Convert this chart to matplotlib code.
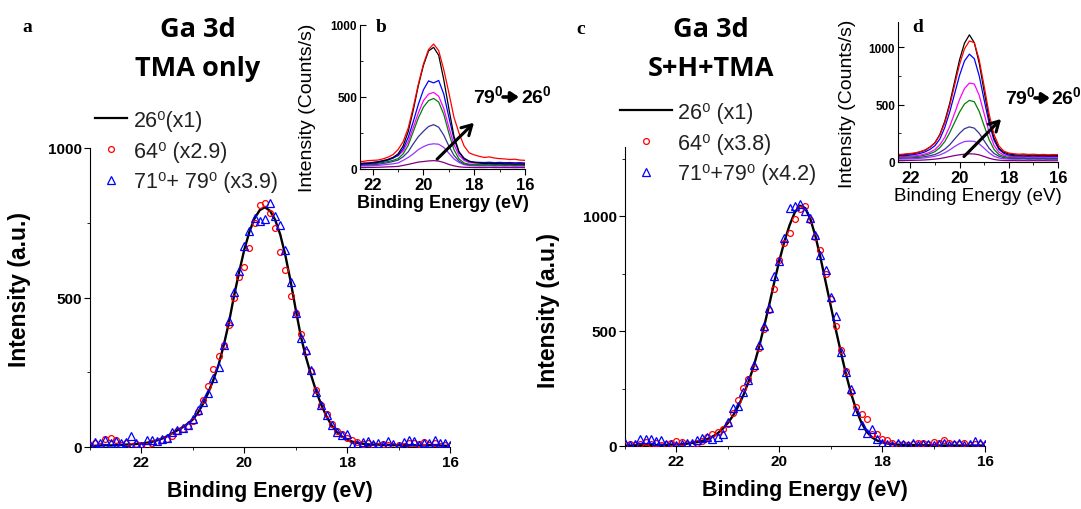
import numpy as np
import matplotlib.pyplot as plt
from matplotlib.lines import Line2D
from matplotlib.ticker import MultipleLocator

plt.rcParams['font.family'] = ['Liberation Sans', 'DejaVu Sans']
plt.rcParams['mathtext.fontset'] = 'custom'
plt.rcParams['mathtext.rm'] = 'Liberation Sans'
plt.rcParams['mathtext.bf'] = 'Liberation Sans:bold'
plt.rcParams['mathtext.default'] = 'regular'

# binding energy grid of the main spectra (eV), 23.0 -> 16.0
energy = np.round(np.arange(230, 159, -1) / 10.0, 1)

# ---- panel a : TMA only ----
a_26 = [5, 4, 5, 6, 5, 6, 7, 8, 9, 10,
        12, 14, 17, 22, 28, 36, 46, 56, 66, 78,
        92, 115, 145, 182, 225, 275, 340, 415, 505, 585,
        660, 720, 765, 792, 802, 790, 760, 710, 640, 555,
        460, 370, 300, 240, 185, 140, 102, 72, 50, 35,
        25, 18, 14, 11, 9, 8, 8, 7, 7, 6,
        6, 6, 5, 6, 5, 5, 6, 5, 5, 4, 4]
a_64 = [5, 12, 5, 28, 30, 22, 8, 15, 5, 10,
        8, 5, 12, 18, 22, 28, 38, 52, 60, 70,
        88, 117, 157, 205, 261, 305, 341, 408, 500, 568,
        602, 665, 750, 811, 817, 783, 733, 652, 593, 506,
        447, 377, 317, 255, 190, 142, 110, 78, 52, 42,
        30, 25, 18, 10, 12, 8, 5, 10, 6, 4,
        8, 5, 12, 15, 10, 18, 8, 12, 5, 6, 3]
a_7179 = [8, 18, 12, 22, 15, 20, 14, 18, 38, 12,
          5, 25, 22, 20, 28, 30, 50, 56, 62, 73,
          95, 123, 149, 181, 232, 268, 341, 422, 520, 589,
          671, 724, 766, 755, 761, 817, 772, 742, 660, 551,
          447, 363, 324, 257, 185, 140, 106, 73, 50, 39,
          42, 8, 10, 18, 20, 10, 15, 8, 20, 10,
          5, 18, 22, 20, 8, 12, 15, 25, 15, 12, 8]

# ---- panel c : S+H+TMA ----
c_26 = [2, 2, 3, 3, 3, 4, 4, 5, 5, 6,
        7, 8, 10, 13, 17, 22, 30, 40, 55, 75,
        100, 132, 172, 220, 278, 345, 425, 515, 610, 710,
        805, 890, 960, 1015, 1045, 1035, 990, 915, 820, 715,
        610, 505, 405, 310, 225, 155, 100, 62, 38, 24,
        16, 11, 8, 6, 5, 4, 4, 3, 3, 3,
        3, 2, 2, 2, 2, 2, 2, 2, 2, 2, 2]
c_64 = [3, 8, 5, 10, 18, 8, 12, 5, 10, 15,
        22, 18, 10, 8, 15, 20, 40, 51, 61, 72,
        97, 145, 202, 253, 292, 340, 426, 510, 592, 682,
        809, 881, 925, 986, 1030, 1043, 983, 910, 853, 749,
        640, 520, 419, 325, 234, 171, 137, 116, 51, 51,
        29, 25, 12, 8, 10, 5, 8, 12, 15, 10,
        18, 12, 25, 15, 10, 8, 12, 5, 8, 10, 5]
c_7179 = [15, 5, 8, 30, 32, 30, 20, 28, 10, 8,
          5, 8, 12, 15, 25, 35, 40, 32, 40, 51,
          104, 166, 173, 234, 289, 354, 438, 520, 600, 737,
          806, 903, 1033, 1043, 1052, 1023, 990, 918, 831, 766,
          650, 564, 408, 321, 249, 152, 90, 58, 72, 29,
          14, 10, 5, 12, 8, 5, 12, 6, 8, 10,
          5, 8, 12, 6, 10, 12, 5, 8, 20, 15, 10]

# ---- insets : angle series 26 -> 79 deg, grid 22.6 -> 16.0 eV ----
inset_energy = np.round(np.arange(226, 159, -2) / 10.0, 1)
inset_colors = ['red', 'black', 'blue', '#ff00ff', 'green', '#333399', '#9933ff', '#800080']

b_curves = [
    [55, 52, 58, 60, 62, 70, 82, 100, 135, 190, 285, 430, 590, 730, 830, 868, 822, 690, 530, 360,
     250, 160, 112, 98, 88, 80, 84, 76, 72, 70, 66, 68, 62, 60],
    [35, 38, 40, 45, 50, 58, 65, 80, 105, 160, 260, 410, 580, 720, 820, 845, 790, 620, 420, 230,
     120, 75, 55, 45, 42, 38, 40, 36, 38, 35, 36, 34, 35, 33],
    [30, 33, 36, 40, 45, 52, 62, 75, 95, 140, 220, 330, 450, 550, 612, 598, 615, 520, 360, 210,
     115, 70, 52, 48, 46, 45, 47, 44, 46, 44, 45, 43, 44, 42],
    [40, 42, 44, 46, 50, 56, 68, 80, 92, 125, 190, 290, 390, 475, 520, 532, 505, 420, 290, 170,
     95, 60, 45, 42, 40, 39, 41, 38, 40, 38, 39, 37, 38, 37],
    [32, 33, 34, 36, 40, 45, 52, 60, 72, 105, 165, 260, 355, 430, 475, 490, 465, 380, 250, 135,
     70, 42, 33, 31, 30, 30, 31, 29, 30, 29, 30, 28, 29, 28],
    [26, 27, 28, 30, 33, 38, 44, 52, 62, 85, 120, 175, 225, 262, 295, 308, 290, 235, 160, 95,
     55, 35, 30, 28, 27, 27, 28, 26, 27, 26, 27, 25, 26, 25],
    [20, 21, 22, 23, 25, 28, 32, 36, 42, 60, 80, 105, 135, 155, 170, 175, 172, 150, 110, 70,
     45, 30, 24, 22, 21, 21, 22, 20, 21, 20, 21, 19, 20, 19],
    [10, 10, 11, 11, 12, 13, 15, 16, 18, 25, 32, 40, 48, 52, 56, 58, 55, 45, 32, 22,
     15, 12, 11, 10, 10, 10, 11, 10, 10, 10, 10, 9, 10, 9],
]
d_curves = [
    [68, 66, 70, 74, 80, 90, 105, 130, 165, 235, 340, 490, 670, 850, 985, 1055, 1040, 890, 660, 420,
     240, 140, 95, 78, 72, 68, 70, 66, 68, 64, 66, 63, 65, 64],
    [62, 60, 66, 70, 76, 88, 102, 130, 168, 240, 355, 510, 700, 890, 1035, 1108, 1040, 860, 615, 380,
     210, 120, 85, 70, 64, 60, 62, 58, 60, 57, 59, 56, 58, 57],
    [52, 54, 56, 60, 66, 75, 88, 110, 142, 200, 300, 435, 595, 755, 880, 940, 900, 750, 540, 340,
     190, 110, 75, 60, 55, 52, 53, 50, 52, 50, 51, 49, 50, 49],
    [46, 45, 48, 50, 54, 60, 70, 85, 108, 150, 215, 310, 425, 545, 640, 688, 680, 580, 420, 260,
     145, 85, 60, 50, 47, 45, 46, 44, 45, 43, 44, 42, 43, 42],
    [38, 40, 42, 44, 47, 52, 60, 72, 90, 125, 178, 255, 345, 435, 505, 537, 525, 440, 315, 195,
     110, 65, 48, 40, 38, 37, 38, 36, 37, 36, 37, 35, 36, 35],
    [32, 33, 34, 36, 38, 42, 47, 55, 65, 85, 112, 150, 200, 250, 290, 306, 295, 250, 185, 120,
     75, 50, 38, 33, 32, 31, 32, 30, 31, 30, 31, 29, 30, 29],
    [24, 25, 26, 27, 29, 32, 36, 42, 50, 62, 80, 105, 135, 160, 178, 182, 180, 158, 120, 80,
     50, 35, 28, 25, 24, 24, 25, 23, 24, 23, 24, 22, 23, 22],
    [12, 12, 13, 14, 15, 16, 18, 21, 25, 30, 38, 47, 56, 63, 68, 71, 70, 62, 48, 33,
     22, 16, 13, 12, 12, 11, 12, 11, 12, 11, 12, 11, 11, 11],
]

W, H = 1081, 510
fig = plt.figure(figsize=(W / 100, H / 100), dpi=100)


def px_axes(left, top, right, bottom):
    return fig.add_axes([left / W, 1 - bottom / H, (right - left) / W, (bottom - top) / H])


def style_axes(ax, xlim, ylim, ymin_step, xsize, ysize, ydir):
    ax.set_xlim(*xlim)
    ax.set_ylim(*ylim)
    for s in ['top', 'right']:
        ax.spines[s].set_visible(False)
    ax.xaxis.set_major_locator(MultipleLocator(2))
    ax.xaxis.set_minor_locator(MultipleLocator(1))
    ax.yaxis.set_major_locator(MultipleLocator(500))
    ax.yaxis.set_minor_locator(MultipleLocator(ymin_step))
    ax.tick_params(axis='x', which='major', direction='out', length=4, labelsize=xsize, pad=2)
    ax.tick_params(axis='x', which='minor', direction='out', length=2.5)
    ax.tick_params(axis='y', which='major', direction=ydir, length=4, labelsize=ysize, pad=2)
    ax.tick_params(axis='y', which='minor', direction=ydir, length=2.5)
    for lab in ax.get_xticklabels() + ax.get_yticklabels():
        lab.set_fontweight('bold')


def main_panel(ax, y26, y64, y7179, ytop):
    ax.plot(energy, y26, color='black', lw=1.7, zorder=2)
    ax.plot(energy, y64, ls='none', marker='o', ms=4.2, mfc='none', mec='red', mew=0.9, zorder=3)
    ax.plot(energy, y7179, ls='none', marker='^', ms=5.5, mfc='none', mec='blue', mew=0.9, zorder=4)
    style_axes(ax, (23, 16), (0, ytop), 250, 11, 11, 'out')
    ax.set_xlabel('Binding Energy (eV)', fontsize=15.5, fontweight='bold', labelpad=8)


def angle_note(x0, yc, arrow_x0, arrow_x1, x2):
    # "79° -> 26°" note, positions in pixels from the top-left corner
    fig.text(x0 / W, 1 - yc / H, r'79$^\mathbf{0}$', fontsize=14, fontweight='bold',
             ha='left', va='center')
    fig.text(x2 / W, 1 - yc / H, r'26$^\mathbf{0}$', fontsize=14, fontweight='bold',
             ha='left', va='center')
    fig.add_artist(plt.Annotation('', xy=(arrow_x1, H - yc - 2), xytext=(arrow_x0, H - yc - 2),
                                  xycoords='figure pixels', textcoords='figure pixels',
                                  arrowprops=dict(arrowstyle='-|>,head_length=0.45,head_width=0.3',
                                                  lw=2.6, color='black', shrinkA=0, shrinkB=0)))


def inset_panel(ax, curves, ytop, label_bold, arrow):
    for yv, col in zip(curves[::-1], inset_colors[::-1]):
        ax.plot(inset_energy, yv, color=col, lw=0.9)
    style_axes(ax, (22.5, 16), (0, ytop), 250, 12, 8.5, 'in')
    ax.set_xlabel('Binding Energy (eV)', fontsize=13 if label_bold else 13.5,
                  fontweight='bold' if label_bold else 'normal', labelpad=1)
    ax.annotate('', xy=arrow[1], xytext=arrow[0], annotation_clip=False,
                arrowprops=dict(arrowstyle='->,head_length=0.7,head_width=0.4', lw=2.2, color='black'))


# panel a
ax_a = px_axes(90, 149, 450, 448)
main_panel(ax_a, a_26, a_64, a_7179, 1000)
fig.text(20 / W, 1 - 290 / H, 'Intensity (a.u.)', rotation=90, ha='center', va='center',
         fontsize=16.5, fontweight='bold')

# panel c
ax_c = px_axes(625, 148, 985, 447)
main_panel(ax_c, c_26, c_64, c_7179, 1300)
fig.text(549 / W, 1 - 311 / H, 'Intensity (a.u.)', rotation=90, ha='center', va='center',
         fontsize=16.5, fontweight='bold')

# inset b
ax_b = px_axes(360, 26, 525, 170)
inset_panel(ax_b, b_curves, 1000, True, ((19.54, 55), (17.93, 335)))
angle_note(473, 96, 503, 519, 521)
fig.text(307 / W, 1 - 108 / H, 'Intensity (Counts/s)', rotation=90, ha='center', va='center',
         fontsize=14)

# inset d
ax_d = px_axes(898, 23, 1058, 163)
inset_panel(ax_d, d_curves, 1220, False, ((19.9, 30), (18.23, 392)))
angle_note(1005, 97, 1035, 1050, 1051)
fig.text(848 / W, 1 - 104 / H, 'Intensity (Counts/s)', rotation=90, ha='center', va='center',
         fontsize=14)

# titles
for x, t1, t2 in [(198, 'Ga 3d', 'TMA only'), (711, 'Ga 3d', 'S+H+TMA')]:
    fig.text(x / W, 1 - 30 / H, t1, ha='center', va='center', fontsize=19.5,
             fontweight='bold', family='Open Sans')
    fig.text(x / W, 1 - 69 / H, t2, ha='center', va='center', fontsize=19.5,
             fontweight='bold', family='Open Sans')

# panel letters
for x, y, s in [(27, 28, 'a'), (381, 28, 'b'), (581, 29, 'c'), (918, 27, 'd')]:
    fig.text(x / W, 1 - y / H, s, ha='center', va='center', fontsize=14,
             fontweight='bold', family='Liberation Serif')

# legends
def make_legend(ax, labels, x0, y0, hlen):
    handles = [Line2D([], [], color='black', lw=1.6),
               Line2D([], [], ls='none', marker='o', ms=4.2, mfc='none', mec='red', mew=0.9),
               Line2D([], [], ls='none', marker='^', ms=5.5, mfc='none', mec='blue', mew=0.9)]
    leg = ax.legend(handles, labels, loc='upper left', bbox_to_anchor=(x0 / W, 1 - y0 / H),
                    bbox_transform=fig.transFigure, frameon=False, fontsize=15.5,
                    handlelength=hlen, handletextpad=0.3, labelspacing=0.45,
                    borderpad=0, borderaxespad=0, numpoints=1)
    for t in leg.get_texts():
        t.set_color('#222222')


make_legend(ax_a, ['26⁰(x1)', '64⁰ (x2.9)', '71⁰+ 79⁰ (x3.9)'], 95, 111, 1.5)
make_legend(ax_c, ['26⁰ (x1)', '64⁰ (x3.8)', '71⁰+79⁰ (x4.2)'], 620, 103, 2.4)

fig.savefig('out.png', dpi=100)
